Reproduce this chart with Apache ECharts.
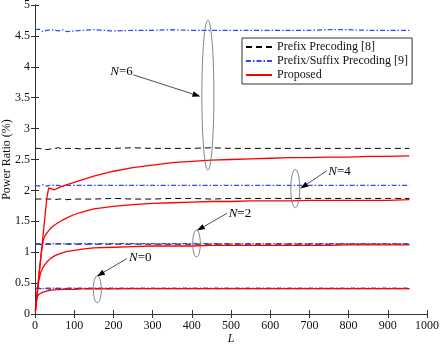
<!DOCTYPE html>
<html>
<head>
<meta charset="utf-8">
<script src="https://cdn.jsdelivr.net/npm/echarts@6/dist/echarts.min.js"></script>
<style>
  html, body { margin: 0; padding: 0; background: #fff; }
  #chart { width: 443px; height: 345px; }
</style>
</head>
<body>
<div id="chart"></div>
<script>
// block length L
const L = [1, 5, 10, 15, 20, 25, 30, 35, 40, 50, 60, 70, 80, 100, 120, 150, 200, 250, 300, 350, 400, 450, 500, 550, 600, 650, 700, 750, 800, 850, 900, 955];

// Prefix Precoding [8]
const prefixN6 = [2.68, 2.67, 2.68, 2.69, 2.67, 2.68, 2.66, 2.68, 2.67, 2.68, 2.69, 2.67, 2.68, 2.68, 2.67, 2.68, 2.68, 2.69, 2.68, 2.68, 2.68, 2.69, 2.68, 2.68, 2.68, 2.68, 2.68, 2.68, 2.68, 2.68, 2.68, 2.68];
const prefixN4 = [1.86, 1.85, 1.86, 1.84, 1.86, 1.85, 1.86, 1.85, 1.86, 1.85, 1.86, 1.86, 1.85, 1.86, 1.86, 1.86, 1.87, 1.86, 1.86, 1.87, 1.87, 1.86, 1.87, 1.87, 1.87, 1.87, 1.87, 1.87, 1.87, 1.87, 1.87, 1.87];
const prefixN2 = [1.13, 1.12, 1.13, 1.14, 1.12, 1.13, 1.13, 1.12, 1.13, 1.13, 1.14, 1.13, 1.13, 1.13, 1.13, 1.13, 1.13, 1.13, 1.13, 1.13, 1.13, 1.13, 1.13, 1.13, 1.13, 1.13, 1.13, 1.13, 1.13, 1.13, 1.13, 1.13];
const prefixN0 = [0.41, 0.42, 0.41, 0.40, 0.41, 0.42, 0.41, 0.41, 0.40, 0.41, 0.41, 0.42, 0.41, 0.41, 0.41, 0.41, 0.41, 0.41, 0.41, 0.41, 0.41, 0.41, 0.41, 0.41, 0.41, 0.41, 0.41, 0.41, 0.41, 0.41, 0.41, 0.41];

// Prefix/Suffix Precoding [9]
const suffixN6 = [4.60, 4.58, 4.61, 4.59, 4.57, 4.60, 4.59, 4.58, 4.60, 4.59, 4.58, 4.60, 4.57, 4.58, 4.59, 4.60, 4.58, 4.59, 4.59, 4.60, 4.59, 4.59, 4.59, 4.59, 4.59, 4.59, 4.59, 4.60, 4.60, 4.59, 4.59, 4.59];
const suffixN4 = [2.08, 2.09, 2.07, 2.08, 2.09, 2.08, 2.07, 2.08, 2.09, 2.08, 2.08, 2.07, 2.08, 2.08, 2.08, 2.08, 2.08, 2.08, 2.08, 2.08, 2.08, 2.08, 2.08, 2.08, 2.08, 2.08, 2.08, 2.08, 2.08, 2.08, 2.08, 2.08];
const suffixN2 = [1.14, 1.15, 1.14, 1.13, 1.15, 1.14, 1.14, 1.15, 1.14, 1.14, 1.13, 1.14, 1.14, 1.14, 1.14, 1.14, 1.14, 1.14, 1.14, 1.14, 1.14, 1.14, 1.14, 1.14, 1.14, 1.14, 1.14, 1.14, 1.14, 1.14, 1.14, 1.14];
const suffixN0 = [0.42, 0.41, 0.42, 0.43, 0.41, 0.42, 0.42, 0.41, 0.42, 0.42, 0.42, 0.41, 0.42, 0.42, 0.42, 0.42, 0.42, 0.42, 0.42, 0.42, 0.42, 0.42, 0.42, 0.42, 0.42, 0.42, 0.42, 0.42, 0.42, 0.42, 0.42, 0.42];

// Proposed
const propN6 = [0.05, 0.30, 0.62, 0.93, 1.24, 1.55, 1.87, 2.04, 2.03, 2.01, 2.04, 2.07, 2.09, 2.13, 2.17, 2.23, 2.31, 2.37, 2.41, 2.45, 2.47, 2.49, 2.50, 2.51, 2.52, 2.53, 2.53, 2.54, 2.54, 2.55, 2.55, 2.56];
const propN4 = [0.04, 0.30, 0.62, 0.92, 1.17, 1.26, 1.31, 1.35, 1.39, 1.44, 1.48, 1.52, 1.55, 1.61, 1.65, 1.70, 1.74, 1.77, 1.79, 1.80, 1.81, 1.82, 1.82, 1.83, 1.83, 1.83, 1.84, 1.84, 1.84, 1.84, 1.84, 1.85];
const propN2 = [0.03, 0.30, 0.55, 0.68, 0.75, 0.80, 0.84, 0.87, 0.90, 0.94, 0.97, 0.99, 1.01, 1.03, 1.05, 1.07, 1.08, 1.09, 1.10, 1.10, 1.10, 1.11, 1.11, 1.11, 1.11, 1.11, 1.11, 1.11, 1.12, 1.12, 1.12, 1.12];
const propN0 = [0.05, 0.27, 0.32, 0.34, 0.355, 0.365, 0.37, 0.38, 0.385, 0.39, 0.395, 0.40, 0.40, 0.40, 0.405, 0.405, 0.405, 0.41, 0.41, 0.41, 0.41, 0.41, 0.41, 0.41, 0.41, 0.41, 0.41, 0.41, 0.41, 0.41, 0.41, 0.41];

const xTicks = [0, 1000, 100];
const yTicks = [0, 5, 0.5];

// annotations: label, text anchor, arrow start, arrow end, ellipse centre (data coords)
const notes = [
  { n: '6', text: [192, 3.92], from: [251, 3.87], to: [422, 3.52], centre: [441, 3.54], rx: 6, ry: 75 },
  { n: '4', text: [748, 2.31], from: [745, 2.32], to: [677, 2.03], centre: [664, 2.03], rx: 4.5, ry: 19 },
  { n: '2', text: [494, 1.62], from: [490, 1.63], to: [413, 1.35], centre: [412, 1.14], rx: 3.8, ry: 13.5 },
  { n: '0', text: [240, 0.92], from: [235, 0.90], to: [158, 0.61], centre: [159, 0.40], rx: 4, ry: 13.5 }
];

const FONT = 'Liberation Serif';
const NAMES = ['Prefix Precoding [8]', 'Prefix/Suffix Precoding [9]', 'Proposed'];
const STYLE = [
  { color: '#000', width: 1, type: [6, 4] },
  { color: '#2f45ff', width: 1.2, type: [5, 2, 1.5, 2] },
  { color: '#ff0000', width: 1.3, type: 'solid' }
];

function mk(idx, vals) {
  return {
    name: NAMES[idx],
    type: 'line',
    data: L.map((l, i) => [l, vals[i]]),
    symbol: 'none',
    smooth: false,
    lineStyle: Object.assign({}, STYLE[idx]),
    itemStyle: { color: STYLE[idx].color },
    z: 2 + idx,
    animation: false
  };
}

const chart = echarts.init(document.getElementById('chart'));

const axisCommon = {
  min: xTicks[0], max: xTicks[1], interval: xTicks[2],
  nameMoveOverlap: false,
  axisLine: { show: true, lineStyle: { color: '#333', width: 1 } },
  axisTick: { inside: true, length: 4, lineStyle: { color: '#333' } },
  splitLine: { show: false }
};
const labelStyle = { fontFamily: FONT, fontSize: 12, color: '#111' };

chart.setOption({
  animation: false,
  textStyle: { fontFamily: FONT },
  grid: { left: 35, right: 16, top: 5, bottom: 31, containLabel: false, outerBoundsMode: 'none' },
  legend: {
    data: NAMES,
    orient: 'vertical',
    left: 242, top: 38,
    padding: [3, 4, 3, 3],
    itemGap: 2,
    itemWidth: 26, itemHeight: 10,
    borderColor: '#333', borderWidth: 1,
    backgroundColor: '#fff',
    itemStyle: { opacity: 0 },
    textStyle: labelStyle
  },
  xAxis: [
    Object.assign({}, axisCommon, {
      type: 'value', position: 'bottom',
      name: 'L', nameLocation: 'middle', nameGap: 19,
      nameTextStyle: Object.assign({}, labelStyle, { fontStyle: 'italic' }),
      axisLabel: Object.assign({}, labelStyle, { margin: 6, formatter: v => String(v) })
    }),
    Object.assign({}, axisCommon, {
      type: 'value', position: 'top', axisLabel: { show: false }
    })
  ],
  yAxis: [
    Object.assign({}, axisCommon, {
      type: 'value', position: 'left', min: yTicks[0], max: yTicks[1], interval: yTicks[2],
      name: 'Power Ratio (%)', nameLocation: 'middle', nameGap: 22,
      nameTextStyle: labelStyle,
      axisLabel: Object.assign({}, labelStyle, { margin: 5, formatter: v => String(v) })
    }),
    Object.assign({}, axisCommon, {
      type: 'value', position: 'right', min: yTicks[0], max: yTicks[1], interval: yTicks[2],
      axisLabel: { show: false }
    })
  ],
  series: [
    mk(0, prefixN6), mk(0, prefixN4), mk(0, prefixN2), mk(0, prefixN0),
    mk(1, suffixN6), mk(1, suffixN4), mk(1, suffixN2), mk(1, suffixN0),
    mk(2, propN6), mk(2, propN4), mk(2, propN2), mk(2, propN0)
  ]
});

// ellipses, arrows and N labels placed through the chart's own scales
const px = p => chart.convertToPixel({ xAxisIndex: 0, yAxisIndex: 0 }, p);
const graphics = [];
notes.forEach(a => {
  const c = px(a.centre), s = px(a.from), e = px(a.to), t = px(a.text);
  graphics.push({
    type: 'ellipse', shape: { cx: c[0], cy: c[1], rx: a.rx, ry: a.ry },
    style: { fill: 'none', stroke: '#777', lineWidth: 0.9 }, z: 20
  });
  const dx = e[0] - s[0], dy = e[1] - s[1], len = Math.hypot(dx, dy);
  const ux = dx / len, uy = dy / len, hl = 8, hw = 2.8;
  const bx = e[0] - ux * hl, by = e[1] - uy * hl;
  graphics.push({
    type: 'line', shape: { x1: s[0], y1: s[1], x2: bx, y2: by },
    style: { stroke: '#222', lineWidth: 0.8 }, z: 21
  });
  graphics.push({
    type: 'polygon',
    shape: { points: [[e[0], e[1]], [bx - uy * hw, by + ux * hw], [bx + uy * hw, by - ux * hw]] },
    style: { fill: '#000' }, z: 21
  });
  graphics.push({
    type: 'text', x: t[0], y: t[1], z: 22,
    style: {
      text: '{i|N}{r|=' + a.n + '}',
      verticalAlign: 'middle', align: 'left',
      rich: {
        i: { fontFamily: FONT, fontSize: 13, fontStyle: 'italic', fill: '#000' },
        r: { fontFamily: FONT, fontSize: 13, fill: '#000' }
      }
    }
  });
});
chart.setOption({ graphic: graphics });
</script>
</body>
</html>
